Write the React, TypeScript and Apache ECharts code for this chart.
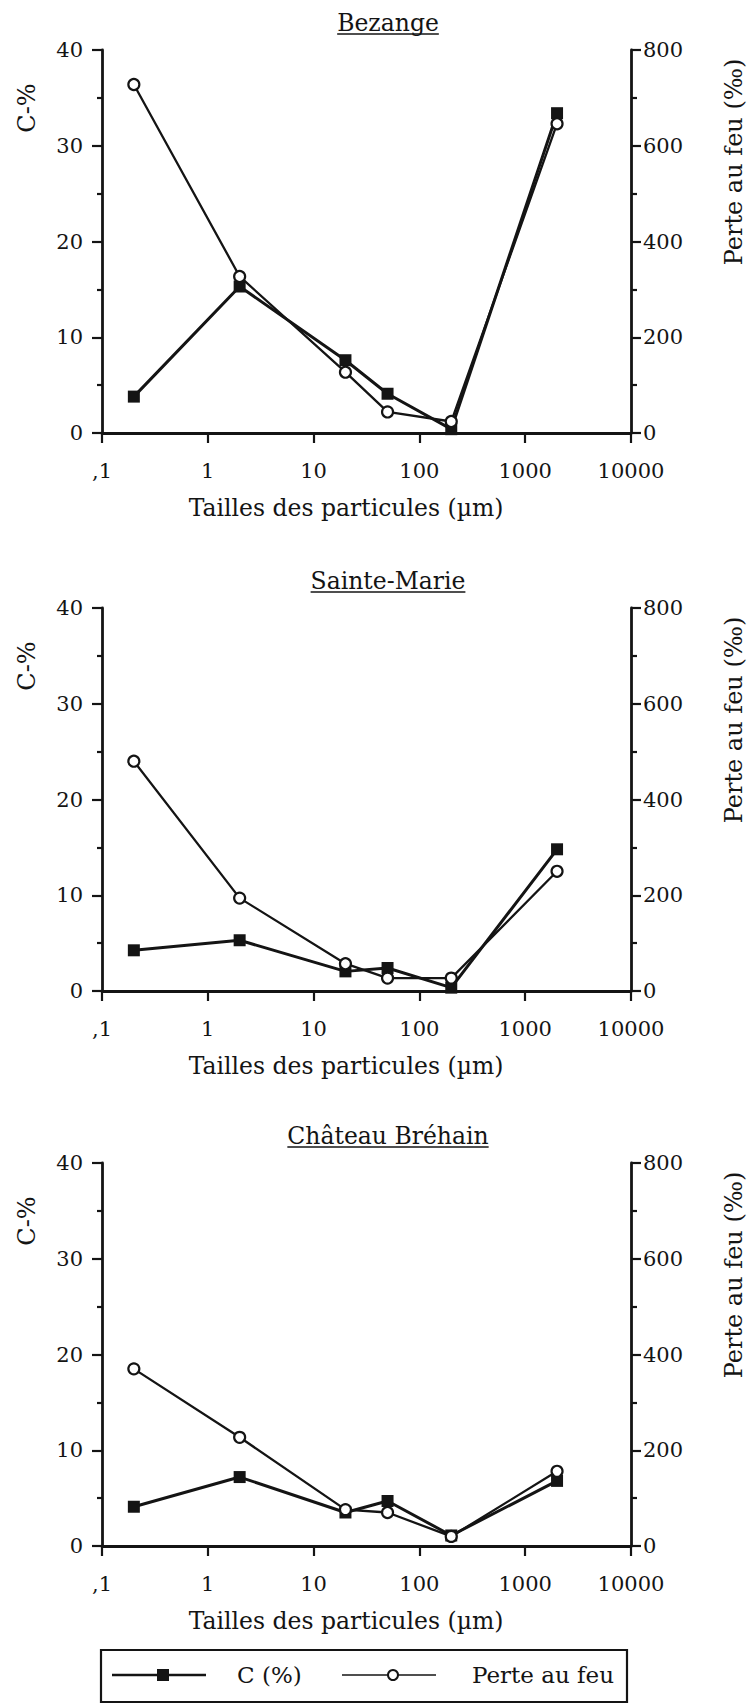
import React, { useEffect, useRef } from "react";
import * as echarts from "echarts";

// ---- data ----
const X_VALUES = [0.2, 2, 20, 50, 200, 2000]; // particle sizes (µm)
const X_TICK_LABELS = [",1", "1", "10", "100", "1000", "10000"];
const SITES = ["Bezange", "Sainte-Marie", "Château Bréhain"];

const C_BEZANGE = [3.8, 15.3, 7.6, 4.1, 0.4, 33.4];
const PERTE_BEZANGE = [728, 327, 127, 44, 24, 646];

const C_SAINTE_MARIE = [4.25, 5.3, 2.05, 2.4, 0.35, 14.8];
const PERTE_SAINTE_MARIE = [480, 194, 57, 27, 27, 250];

const C_CHATEAU_BREHAIN = [4.1, 7.2, 3.5, 4.7, 1.1, 6.8];
const PERTE_CHATEAU_BREHAIN = [370, 227, 76, 70, 20, 156];

const C_SERIES = [C_BEZANGE, C_SAINTE_MARIE, C_CHATEAU_BREHAIN];
const PERTE_SERIES = [PERTE_BEZANGE, PERTE_SAINTE_MARIE, PERTE_CHATEAU_BREHAIN];

const LEFT_AXIS_NAME = "C-%";
const RIGHT_AXIS_NAME = "Perte au feu (‰)";
const X_AXIS_NAME = "Tailles des particules (µm)";
const LEGEND_C = "C (%)";
const LEGEND_PERTE = "Perte au feu";

// ---- layout ----
const W = 751;
const H = 1703;
const FONT_NAME = "DejaVu Serif";
const FONT = '"DejaVu Serif", serif';
const INK = "#141414";
const GRID_LEFT = 102;
const GRID_WIDTH = 529;
const GRID_HEIGHT = 383;
const GRID_TOPS = [50, 608, 1163];
const TITLE_SIZE = 23.5;
const TICK_SIZE = 21;

function measure(text: string, size: number): number {
  try {
    const ctx = document.createElement("canvas").getContext("2d");
    if (!ctx) return text.length * size * 0.6;
    ctx.font = `${size}px "${FONT_NAME}", serif`;
    return ctx.measureText(text).width;
  } catch (e) {
    return text.length * size * 0.6;
  }
}

function App() {
  const ref = useRef<HTMLDivElement>(null);

  useEffect(() => {
    if (!ref.current) return;
    const chart = echarts.init(ref.current, null, { renderer: "svg" });

    const grids: any[] = [];
    const xAxes: any[] = [];
    const yAxes: any[] = [];
    const series: any[] = [];
    const graphics: any[] = [];

    GRID_TOPS.forEach((top, i) => {
      const bottom = top + GRID_HEIGHT;
      grids.push({ left: GRID_LEFT, top, width: GRID_WIDTH, height: GRID_HEIGHT });

      xAxes.push({
        type: "log",
        logBase: 10,
        gridIndex: i,
        min: 0.1,
        max: 10000,
        axisLine: { show: true, onZero: false, lineStyle: { color: INK, width: 2.8 } },
        axisTick: { show: true, inside: false, length: 10, lineStyle: { color: INK, width: 2.2 } },
        minorTick: { show: false },
        splitLine: { show: false },
        axisLabel: {
          color: INK,
          fontFamily: FONT,
          fontSize: TICK_SIZE,
          margin: 27,
          formatter: (v: number) => {
            const idx = Math.round(Math.log10(v)) + 1;
            return X_TICK_LABELS[idx] ?? String(v);
          },
        },
      });

      yAxes.push({
        type: "value",
        gridIndex: i,
        position: "left",
        min: 0,
        max: 40,
        interval: 10,
        axisLine: { show: true, onZero: false, lineStyle: { color: INK, width: 2.8 } },
        axisTick: { show: true, inside: false, length: 10, lineStyle: { color: INK, width: 2.2 } },
        minorTick: { show: true, splitNumber: 2, length: 5, lineStyle: { color: INK, width: 2.2 } },
        splitLine: { show: false },
        minorSplitLine: { show: false },
        axisLabel: { color: INK, fontFamily: FONT, fontSize: TICK_SIZE, margin: 19 },
      });
      yAxes.push({
        type: "value",
        gridIndex: i,
        position: "right",
        min: 0,
        max: 800,
        interval: 200,
        axisLine: { show: true, onZero: false, lineStyle: { color: INK, width: 2.8 } },
        axisTick: { show: true, inside: false, length: 10, lineStyle: { color: INK, width: 2.2 } },
        minorTick: { show: true, splitNumber: 2, length: 6, lineStyle: { color: INK, width: 2.2 } },
        splitLine: { show: false },
        minorSplitLine: { show: false },
        axisLabel: { color: INK, fontFamily: FONT, fontSize: TICK_SIZE, margin: 12 },
      });

      series.push({
        name: LEGEND_C,
        type: "line",
        xAxisIndex: i,
        yAxisIndex: 2 * i,
        data: X_VALUES.map((x, k) => [x, C_SERIES[i][k]]),
        symbol: "rect",
        symbolSize: 12,
        lineStyle: { color: INK, width: 3 },
        itemStyle: { color: INK },
        z: 3,
      });
      series.push({
        name: LEGEND_PERTE,
        type: "line",
        xAxisIndex: i,
        yAxisIndex: 2 * i + 1,
        data: X_VALUES.map((x, k) => [x, PERTE_SERIES[i][k]]),
        symbol: "circle",
        symbolSize: 11,
        showAllSymbol: true,
        lineStyle: { color: INK, width: 2.3 },
        itemStyle: { color: "#fff", borderColor: INK, borderWidth: 2.2 },
        z: 4,
      });

      // title with underline
      const titleW = measure(SITES[i], TITLE_SIZE);
      graphics.push({
        type: "text",
        x: 388,
        y: top - 27,
        style: {
          text: SITES[i],
          fill: INK,
          fontFamily: FONT,
          fontSize: TITLE_SIZE,
          align: "center",
          verticalAlign: "middle",
        },
      });
      graphics.push({
        type: "line",
        shape: { x1: 388 - titleW / 2, y1: top - 16, x2: 388 + titleW / 2, y2: top - 16 },
        style: { stroke: INK, lineWidth: 1.5 },
      });
      // axis names
      graphics.push({
        type: "text",
        x: 27,
        y: top + 58,
        rotation: Math.PI / 2,
        style: {
          text: LEFT_AXIS_NAME,
          fill: INK,
          fontFamily: FONT,
          fontSize: 24,
          align: "center",
          verticalAlign: "middle",
        },
      });
      graphics.push({
        type: "text",
        x: 734,
        y: top + 112,
        rotation: Math.PI / 2,
        style: {
          text: RIGHT_AXIS_NAME,
          fill: INK,
          fontFamily: FONT,
          fontSize: 24,
          align: "center",
          verticalAlign: "middle",
        },
      });
      graphics.push({
        type: "text",
        x: 346,
        y: bottom + 75,
        style: {
          text: X_AXIS_NAME,
          fill: INK,
          fontFamily: FONT,
          fontSize: 23.5,
          align: "center",
          verticalAlign: "middle",
        },
      });
    });

    // legend box
    const ly = 1675;
    graphics.push({
      type: "rect",
      shape: { x: 101, y: 1650, width: 526, height: 52 },
      style: { fill: "#fff", stroke: INK, lineWidth: 2.2 },
      z: 0,
    });
    graphics.push({
      type: "line",
      shape: { x1: 112, y1: ly, x2: 206, y2: ly },
      style: { stroke: INK, lineWidth: 2.4 },
      z: 1,
    });
    graphics.push({
      type: "rect",
      shape: { x: 157, y: ly - 6, width: 12, height: 12 },
      style: { fill: INK },
      z: 2,
    });
    graphics.push({
      type: "text",
      x: 237,
      y: ly,
      style: { text: LEGEND_C, fill: INK, fontFamily: FONT, fontSize: 23, align: "left", verticalAlign: "middle" },
      z: 2,
    });
    graphics.push({
      type: "line",
      shape: { x1: 342, y1: ly, x2: 436, y2: ly },
      style: { stroke: INK, lineWidth: 1.6 },
      z: 1,
    });
    graphics.push({
      type: "circle",
      shape: { cx: 393, cy: ly, r: 5 },
      style: { fill: "#fff", stroke: INK, lineWidth: 2 },
      z: 2,
    });
    graphics.push({
      type: "text",
      x: 472,
      y: ly,
      style: { text: LEGEND_PERTE, fill: INK, fontFamily: FONT, fontSize: 23, align: "left", verticalAlign: "middle" },
      z: 2,
    });

    chart.setOption({
      animation: false,
      backgroundColor: "#fff",
      grid: grids,
      xAxis: xAxes,
      yAxis: yAxes,
      series,
      graphic: graphics,
    });

    return () => chart.dispose();
  }, []);

  return (
    <div
      ref={ref}
      style={{ position: "absolute", left: 0, top: 0, width: W, height: H, background: "#fff" }}
    />
  );
}

export default App;
